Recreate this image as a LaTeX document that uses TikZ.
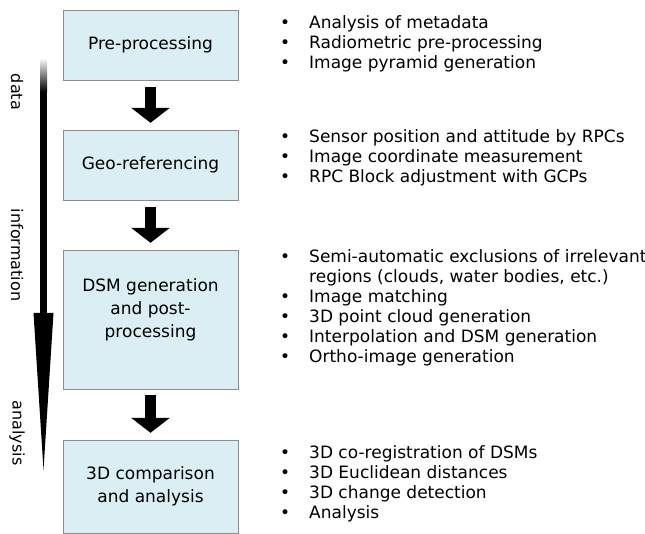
\documentclass[tikz,border=0pt]{standalone}
\usepackage{fontspec}
\setmainfont{DejaVu Sans}
\usetikzlibrary{arrows.meta}
\definecolor{paleblue}{RGB}{219,238,243}
\definecolor{boxgray}{RGB}{140,140,140}
\newcommand{\bul}{\makebox[29pt][l]{\textbullet}}
\newcommand{\nobul}{\hspace*{29pt}}

\begin{document}
\begin{tikzpicture}[x=1pt, y=-1pt,
	stage/.style={draw=boxgray, fill=paleblue, minimum width=175pt, inner sep=0pt, align=center, font=\fontsize{17}{23}\selectfont},
	stagetxt/.style={align=center, inner sep=0pt, font=\fontsize{17}{23}\selectfont},
	tasks/.style={anchor=west, align=left, inner sep=0pt, font=\fontsize{17}{20}\selectfont},
	side/.style={rotate=-90, inner sep=0pt, font=\fontsize{16}{20}\selectfont},
	fat/.style={line width=11pt, -{Triangle[width=38pt,length=15pt]}}]

	\useasboundingbox (0,0) rectangle (645,534);

	% processing stages
	\node[stage, minimum height=70pt] (pre) at (150.5,45) {Pre-processing};
	\node[stage, minimum height=70pt] (geo) at (150.5,165) {Geo-referencing};
	\node[stage, minimum height=139pt, label={[stagetxt, yshift=10pt]center:{DSM generation\\and post-\\processing}}] (dsm) at (150.5,319.5) {};
	\node[stage, minimum height=93pt] (cmp) at (150.5,486.5) {3D comparison\\and analysis};

	% block arrows between stages
	\draw[fat] ([yshift=-7pt]pre.south) -- ([yshift=7pt]geo.north);
	\draw[fat] ([yshift=-7pt]geo.south) -- ([yshift=7pt]dsm.north);
	\draw[fat] ([yshift=-6pt]dsm.south) -- ([yshift=7pt]cmp.north);

	% task lists
	\node[tasks] (l1) at (280,44) {\bul Analysis of metadata\\\bul Radiometric pre-processing\\\bul Image pyramid generation};
	\node[tasks] (l2) at (280,158) {\bul Sensor position and attitude by RPCs\\\bul Image coordinate measurement\\\bul RPC Block adjustment with GCPs};
	\node[tasks] (l3) at (280,308) {\bul Semi-automatic exclusions of irrelevant\\\nobul regions (clouds, water bodies, etc.)\\\bul Image matching\\\bul 3D point cloud generation\\\bul Interpolation and DSM generation\\\bul Ortho-image generation};
	\node[tasks] (l4) at (280,484) {\bul 3D co-registration of DSMs\\\bul 3D Euclidean distances\\\bul 3D change detection\\\bul Analysis};

	% data -> information -> analysis arrow
	\shade[top color=white, bottom color=black] (40,58) rectangle (47,92);
	\fill (40,92) rectangle (47,316);
	\fill (33.5,313) -- (53.5,313) -- (43.5,470) -- cycle;

	\node[side] (data) at (17,92) {data};
	\node[side] (info) at (17,255) {information};
	\node[side] (anal) at (17,433) {analysis};

\end{tikzpicture}
\end{document}
